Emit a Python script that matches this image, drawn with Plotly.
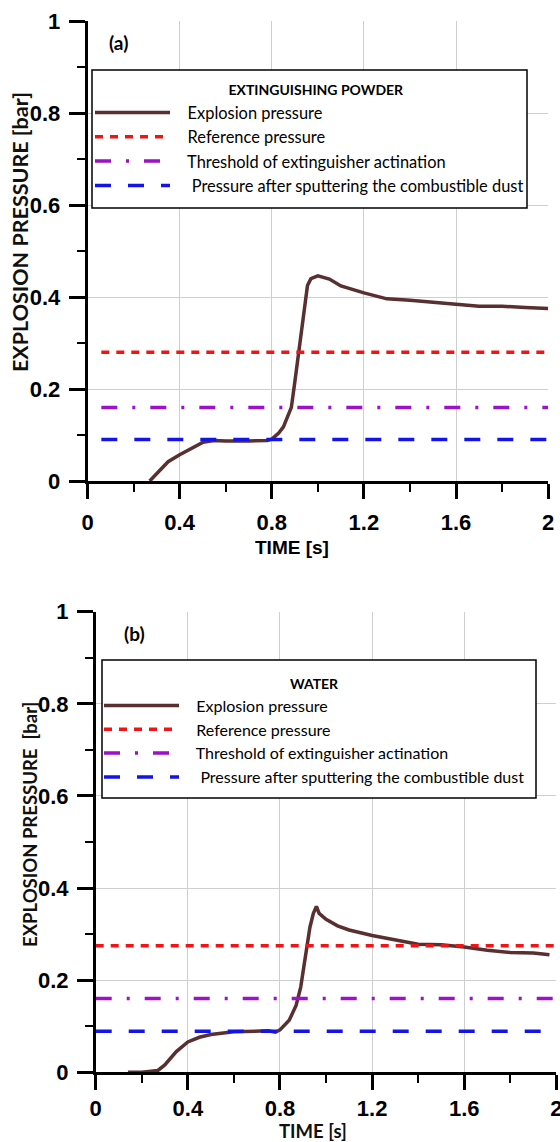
import plotly.graph_objects as go

# ---------------- data ----------------
# Panel (a): extinguishing powder
t_a = [0.27, 0.30, 0.35, 0.40, 0.45, 0.50, 0.55, 0.60, 0.70, 0.78, 0.80, 0.83, 0.85, 0.87,
       0.885, 0.90, 0.92, 0.94, 0.955, 0.97, 1.00, 1.05, 1.10, 1.20, 1.30, 1.40, 1.50,
       1.60, 1.70, 1.80, 1.90, 2.00]
p_a = [0.0, 0.015, 0.042, 0.057, 0.071, 0.084, 0.088, 0.087, 0.087, 0.088, 0.091, 0.104,
       0.117, 0.14, 0.16, 0.215, 0.29, 0.365, 0.425, 0.44, 0.446, 0.439, 0.424, 0.409,
       0.396, 0.393, 0.388, 0.384, 0.380, 0.380, 0.377, 0.375]
line_t_a = [0.06, 2.0]
ref_a = 0.28
thr_a = 0.16
sput_a = 0.09

# Panel (b): water
t_b = [0.14, 0.20, 0.27, 0.30, 0.35, 0.40, 0.45, 0.50, 0.60, 0.70, 0.75, 0.78, 0.80, 0.84,
       0.87, 0.89, 0.91, 0.93, 0.945, 0.958, 0.97, 1.00, 1.05, 1.10, 1.20, 1.30, 1.40,
       1.50, 1.60, 1.70, 1.80, 1.90, 1.97]
p_b = [0.0, 0.0, 0.004, 0.016, 0.045, 0.066, 0.076, 0.082, 0.088, 0.090, 0.090, 0.087,
       0.092, 0.113, 0.145, 0.185, 0.255, 0.315, 0.345, 0.36, 0.345, 0.332, 0.318, 0.309,
       0.297, 0.287, 0.278, 0.277, 0.272, 0.265, 0.260, 0.259, 0.255]
line_t_b = [0.0, 2.0]
ref_b = 0.275
thr_b = 0.16
sput_b = 0.089

NB = "\u00a0"
series_names = [NB * 3 + "Explosion pressure", NB * 3 + "Reference pressure",
                NB * 3 + "Threshold of extinguisher actination",
                NB * 4 + "Pressure after sputtering the combustible dust"]
legend_titles = [NB * 4 + "EXTINGUISHING POWDER", "WATER"]
panel_labels = ["(a)", "(b)"]

x_ticks = [0, 0.4, 0.8, 1.2, 1.6, 2]
y_ticks = [0, 0.2, 0.4, 0.6, 0.8, 1]

# ---------------- styles ----------------
W, H = 560, 1142
C_EXP = "#5a2f30"
C_REF = "#f01414"
C_THR = "#9b12c8"
C_SPU = "#1414e8"
TICK_FONT = dict(family="Liberation Sans, Arial", size=22, color="black", weight="bold")
CAL_FONT = "Lato, Open Sans"

fig = go.Figure()

panels = [
    dict(t=t_a, p=p_a, lt=line_t_a, ref=ref_a, thr=thr_a, spu=sput_a, xa="x", ya="y", lg="legend"),
    dict(t=t_b, p=p_b, lt=line_t_b, ref=ref_b, thr=thr_b, spu=sput_b, xa="x2", ya="y2", lg="legend2"),
]

for pn in panels:
    fig.add_trace(go.Scatter(x=pn["t"], y=pn["p"], mode="lines", name=series_names[0],
                             line=dict(color=C_EXP, width=3.5), xaxis=pn["xa"], yaxis=pn["ya"],
                             legend=pn["lg"]))
    fig.add_trace(go.Scatter(x=pn["lt"], y=[pn["ref"]] * 2, mode="lines", name=series_names[1],
                             line=dict(color=C_REF, width=3.5, dash="8px,7px"),
                             xaxis=pn["xa"], yaxis=pn["ya"], legend=pn["lg"]))
    fig.add_trace(go.Scatter(x=pn["lt"], y=[pn["thr"]] * 2, mode="lines", name=series_names[2],
                             line=dict(color=C_THR, width=3.5, dash="16px,15px,3px,15px"),
                             xaxis=pn["xa"], yaxis=pn["ya"], legend=pn["lg"]))
    fig.add_trace(go.Scatter(x=pn["lt"], y=[pn["spu"]] * 2, mode="lines", name=series_names[3],
                             line=dict(color=C_SPU, width=3.5, dash="16px,17px"),
                             xaxis=pn["xa"], yaxis=pn["ya"], legend=pn["lg"]))


def xaxis_cfg(domain, anchor, standoff):
    return dict(domain=domain, anchor=anchor, range=[0, 2], tickvals=x_ticks,
                showline=True, linecolor="black", linewidth=2.5,
                ticks="outside", ticklen=15, tickwidth=2.5, tickcolor="black",
                ticklabelstandoff=standoff, ticklabeloverflow="allow",
                minor=dict(dtick=0.2, tick0=0, ticks="outside", ticklen=8, tickwidth=2,
                           tickcolor="black", showgrid=False),
                showgrid=True, gridcolor="#cfcfcf", gridwidth=1, zeroline=False,
                tickfont=TICK_FONT, automargin=False, fixedrange=True)


def yaxis_cfg(domain, anchor):
    return dict(domain=domain, anchor=anchor, range=[0, 1], tickvals=y_ticks,
                showline=True, linecolor="black", linewidth=2.5,
                ticks="outside", ticklen=16, tickwidth=2.5, tickcolor="black",
                ticklabelstandoff=4,
                minor=dict(dtick=0.1, tick0=0, ticks="outside", ticklen=8, tickwidth=2,
                           tickcolor="black", showgrid=False),
                showgrid=True, gridcolor="#cfcfcf", gridwidth=1, zeroline=False,
                tickfont=TICK_FONT, automargin=False, fixedrange=True)


def leg_cfg(x, y, title, title_box_size, item_size):
    return dict(x=x, y=y, xanchor="left", yanchor="top", bgcolor="rgba(0,0,0,0)",
                borderwidth=0, itemwidth=75,
                font=dict(family=CAL_FONT, size=item_size, color="black"),
                title=dict(text="<span style='font-size:14px'><b>" + title + "</b></span>",
                           side="top center",
                           font=dict(family=CAL_FONT, size=title_box_size, color="black")),
                traceorder="normal")


fig.update_layout(
    width=W, height=H, margin=dict(l=0, r=0, t=0, b=0),
    paper_bgcolor="white", plot_bgcolor="white",
    xaxis=xaxis_cfg([87.5 / W, 548.2 / W], "y", 5),
    yaxis=yaxis_cfg([1 - 481 / H, 1 - 21 / H], "x"),
    xaxis2=xaxis_cfg([95.7 / W, 556.4 / W], "y2", 0),
    yaxis2=yaxis_cfg([1 - 1072.3 / H, 1 - 611.7 / H], "x2"),
    legend=leg_cfg(90 / W, 1 - 68 / H, legend_titles[0], 21, 16.4),
    legend2=leg_cfg(99 / W, 1 - 673 / H, legend_titles[1], 12, 16),
    showlegend=True,
)

# legend frames (white boxes with black border)
shapes = [
    dict(type="rect", xref="paper", yref="paper", x0=92 / W, x1=527 / W, y0=1 - 208 / H, y1=1 - 70 / H,
         fillcolor="white", line=dict(color="black", width=1.5), layer="above"),
    dict(type="rect", xref="paper", yref="paper", x0=102 / W, x1=536 / W, y0=1 - 798 / H, y1=1 - 660 / H,
         fillcolor="white", line=dict(color="black", width=1.5), layer="above"),
]
fig.update_layout(shapes=shapes)

ann = []
# y-axis titles
ann.append(dict(text="EXPLOSION PRESSURE [bar]", x=20 / W, y=1 - 232 / H, xref="paper", yref="paper",
                textangle=-90, showarrow=False, xanchor="center", yanchor="middle",
                font=dict(family=CAL_FONT, size=21.5, color="#111111", weight="bold")))
ann.append(dict(text="EXPLOSION PRESSURE\u00a0 [bar]", x=30 / W, y=1 - 825 / H, xref="paper", yref="paper",
                textangle=-90, showarrow=False, xanchor="center", yanchor="middle",
                font=dict(family=CAL_FONT, size=18.5, color="#111111", weight="bold")))
# x-axis titles
ann.append(dict(text="TIME [s]", x=292 / W, y=1 - 547 / H, xref="paper", yref="paper",
                showarrow=False, xanchor="center", yanchor="middle",
                font=dict(family="Liberation Sans, Arial", size=19, color="black", weight="bold")))
ann.append(dict(text="TIME [s]", x=313 / W, y=1 - 1131 / H, xref="paper", yref="paper",
                showarrow=False, xanchor="center", yanchor="middle",
                font=dict(family=CAL_FONT, size=18.5, color="#111111", weight="bold")))
# panel labels
ann.append(dict(text=panel_labels[0], x=118 / W, y=1 - 43 / H, xref="paper", yref="paper",
                showarrow=False, xanchor="center", yanchor="middle",
                font=dict(family=CAL_FONT, size=19, color="black", weight="bold")))
ann.append(dict(text=panel_labels[1], x=134 / W, y=1 - 633 / H, xref="paper", yref="paper",
                showarrow=False, xanchor="center", yanchor="middle",
                font=dict(family=CAL_FONT, size=19, color="black", weight="bold")))
fig.update_layout(annotations=ann)

fig.write_html("out.html", config={"displayModeBar": False},
               post_script="document.body.style.margin='0';")
